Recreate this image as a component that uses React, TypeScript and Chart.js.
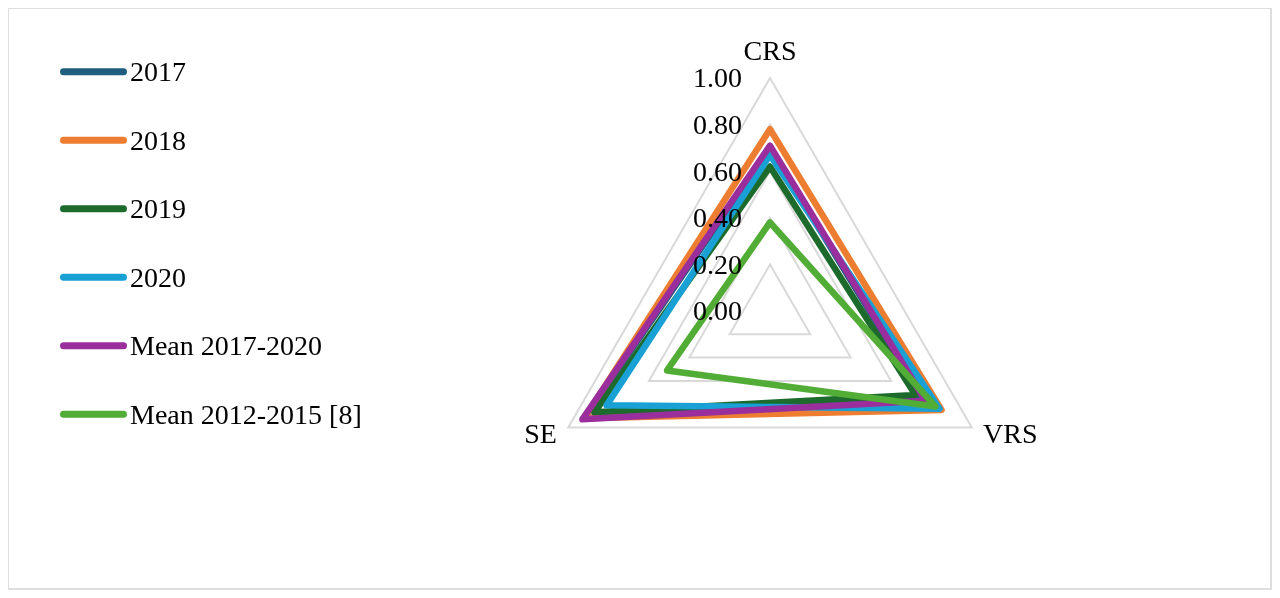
import React, { useEffect, useRef } from 'react'
import { Chart, registerables } from 'chart.js'

Chart.register(...registerables)

// axes of the radar, clockwise from the top
const axes = ['CRS', 'VRS', 'SE']
const seriesNames = ['2017', '2018', '2019', '2020', 'Mean 2017-2020', 'Mean 2012-2015 [8]']
const values2017 = [0.70, 0.76, 0.92]
const values2018 = [0.78, 0.85, 0.92]
const values2019 = [0.62, 0.72, 0.87]
const values2020 = [0.67, 0.84, 0.81]
const mean2017to2020 = [0.71, 0.77, 0.93]
const mean2012to2015 = [0.38, 0.82, 0.51]
const tickValues = [0, 0.2, 0.4, 0.6, 0.8, 1.0]
const colors = ['#1F5E7F', '#ED7D31', '#1D6B2C', '#19A0D5', '#992E9C', '#51AD35']

const seriesValues = [values2017, values2018, values2019, values2020, mean2017to2020, mean2012to2015]

const FONT = "28px 'Times New Roman', 'Liberation Serif', serif"
const TEXT_SHIFT = 2 // canvas 'middle' baseline sits a bit high for serif digits

// tick labels sit left of the vertical axis, axis labels and legend drawn by hand
const labelsPlugin = {
    id: 'radarLabels',
    afterDraw(chart: any) {
        const { ctx } = chart
        const r = chart.scales.r
        ctx.save()
        ctx.font = FONT
        ctx.fillStyle = '#000'
        ctx.textBaseline = 'middle'

        ctx.textAlign = 'right'
        tickValues.forEach((v) => {
            const y = r.yCenter - r.getDistanceFromCenterForValue(v)
            ctx.fillText(v.toFixed(2), r.xCenter - 28, y + TEXT_SHIFT)
        })

        axes.forEach((name, i) => {
            const top = i === 0
            const pos = r.getPointPosition(i, r.drawingArea + (top ? 27 : 13))
            ctx.textAlign = top ? 'center' : pos.x > r.xCenter ? 'left' : 'right'
            ctx.fillText(name, pos.x, pos.y + TEXT_SHIFT)
        })

        chart.data.datasets.forEach((ds: any, i: number) => {
            const y = 62.7 + i * 68.5
            ctx.strokeStyle = ds.borderColor
            ctx.lineWidth = 7
            ctx.lineCap = 'round'
            ctx.beginPath()
            ctx.moveTo(54.5, y)
            ctx.lineTo(114.5, y)
            ctx.stroke()
            ctx.textAlign = 'left'
            ctx.fillText(ds.label, 121, y + TEXT_SHIFT)
        })
        ctx.restore()
    }
}

export default function App() {
    const chartRef = useRef<HTMLCanvasElement>(null)
    const chartInstance = useRef<Chart>()

    useEffect(() => {
        if (!chartRef.current) return

        if (chartInstance.current) {
            chartInstance.current.destroy()
        }

        chartInstance.current = new Chart(chartRef.current, {
            type: 'radar',
            data: {
                labels: axes,
                datasets: seriesNames.map((name, i) => ({
                    label: name,
                    data: seriesValues[i],
                    borderColor: colors[i],
                    backgroundColor: colors[i],
                    borderWidth: 6.5,
                    borderJoinStyle: 'round',
                    pointRadius: 0,
                    fill: false,
                    order: -i
                }))
            },
            options: {
                responsive: false,
                animation: false,
                events: [],
                layout: {
                    padding: { left: 461, right: 200, top: 69, bottom: 44 }
                },
                plugins: {
                    legend: { display: false },
                    tooltip: { enabled: false }
                },
                scales: {
                    r: {
                        min: 0,
                        max: 1,
                        ticks: { display: false, stepSize: 0.2 },
                        grid: { color: '#D9D9D9', lineWidth: 2, circular: false },
                        angleLines: { display: false },
                        pointLabels: { display: false }
                    }
                }
            },
            plugins: [labelsPlugin]
        })

        return () => {
            if (chartInstance.current) {
                chartInstance.current.destroy()
            }
        }
    }, [])

    return (
        <div style={{
            margin: '-1px 0 0 -1px',
            width: 1265,
            height: 583,
            border: '2px solid #DEDEDE',
            boxSizing: 'border-box',
            background: '#fff'
        }}>
            <canvas ref={chartRef} width={1261} height={579} style={{ display: 'block' }} />
        </div>
    )
}
